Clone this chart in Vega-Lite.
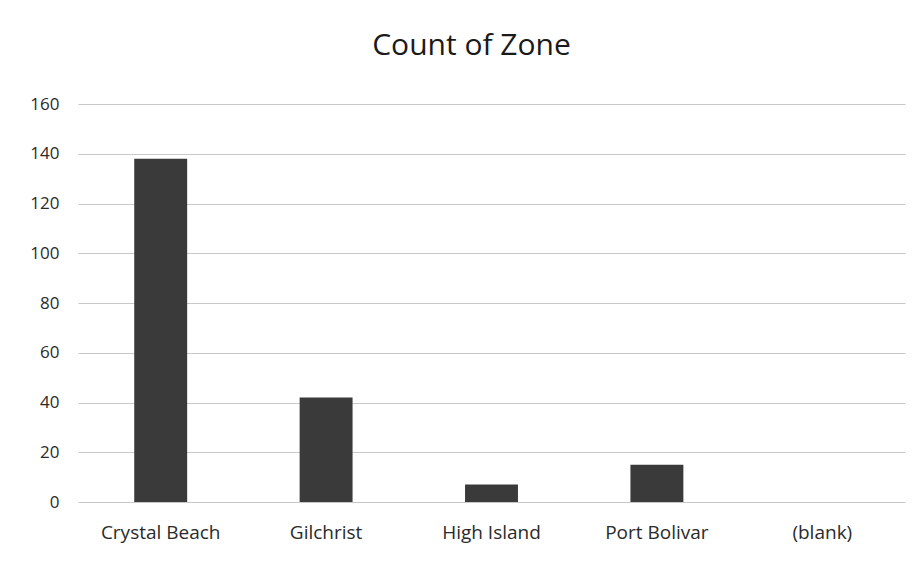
{
  "$schema": "https://vega.github.io/schema/vega-lite/v6.json",
  "width": 827,
  "height": 398,
  "autosize": {"type": "none"},
  "padding": {"left": 78, "top": 104, "right": 19, "bottom": 59},
  "background": "white",
  "title": {
    "text": "Count of Zone",
    "font": "Open Sans",
    "fontSize": 30,
    "fontWeight": "normal",
    "color": "#1a1a1a",
    "anchor": "middle",
    "dx": -20,
    "offset": 34
  },
  "data": {
    "values": [
      {"zone": "Crystal Beach", "count": 138},
      {"zone": "Gilchrist", "count": 42},
      {"zone": "High Island", "count": 7},
      {"zone": "Port Bolivar", "count": 15},
      {"zone": "(blank)", "count": 0}
    ]
  },
  "mark": {"type": "bar", "color": "#3a3a3a"},
  "encoding": {
    "x": {
      "field": "zone",
      "type": "nominal",
      "sort": null,
      "scale": {"paddingInner": 0.68, "paddingOuter": 0.34},
      "axis": {
        "title": null,
        "labelAngle": 0,
        "domain": false,
        "ticks": false,
        "labelFont": "Open Sans",
        "labelFontSize": 19,
        "labelColor": "#2a2a2a",
        "labelPadding": 21
      }
    },
    "y": {
      "field": "count",
      "type": "quantitative",
      "scale": {"domain": [0, 160]},
      "axis": {
        "title": null,
        "values": [0, 20, 40, 60, 80, 100, 120, 140, 160],
        "domain": false,
        "ticks": false,
        "grid": true,
        "gridColor": "#c8c8c8",
        "gridWidth": 1,
        "labelFont": "Open Sans",
        "labelFontSize": 17,
        "labelColor": "#2a2a2a",
        "labelPadding": 19
      }
    }
  },
  "config": {
    "view": {"stroke": null}
  }
}
